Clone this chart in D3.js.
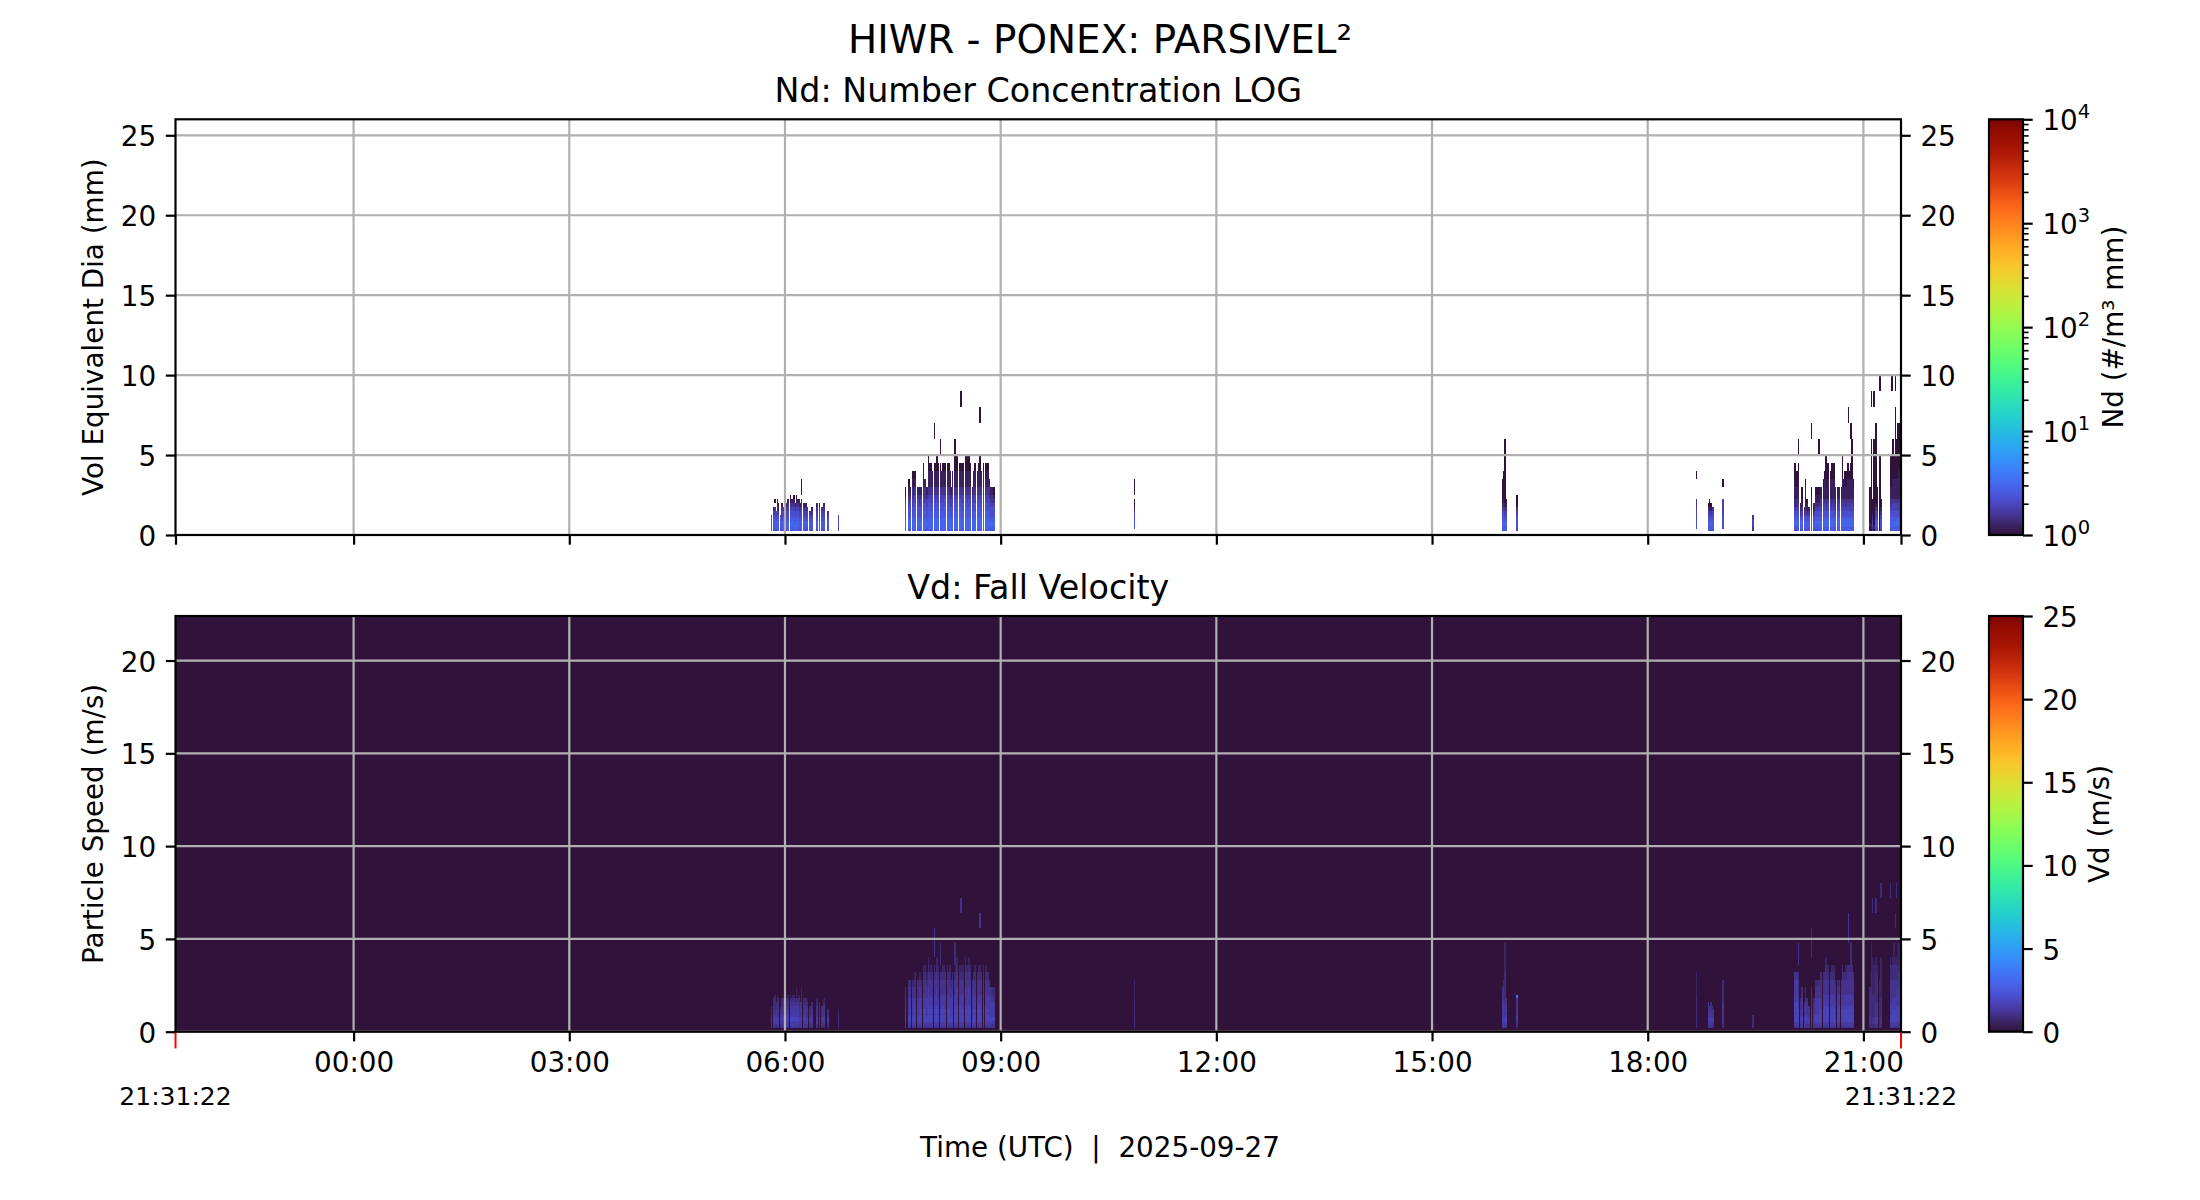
<!DOCTYPE html>
<html><head><meta charset="utf-8">
<script src="https://cdn.jsdelivr.net/npm/d3@7"></script>
<style>body{margin:0;background:#fff} text{font-family:"DejaVu Sans",sans-serif;fill:#000}</style>
</head><body><svg id="c" width="2200" height="1200" xmlns="http://www.w3.org/2000/svg"></svg>
<script>
// ---------------- DATA ----------------
const figTitle = "HIWR - PONEX: PARSIVEL²";
const ndTitle = "Nd: Number Concentration LOG";
const vdTitle = "Vd: Fall Velocity";
const timeStart = "2025-09-26T21:31:22Z";
const timeEnd = "2025-09-27T21:31:22Z";
const dataDate = "2025-09-27";
const hourTicks = ["00:00","03:00","06:00","09:00","12:00","15:00","18:00","21:00"];
const diaTicks = [0,5,10,15,20,25];
const velTicks = [0,5,10,15,20];
const ndBarTicks = [1,10,100,1000,10000];
const vdBarTicks = [0,5,10,15,20,25];
// Parsivel class edges
const diaEdges = [0,0.125,0.25,0.375,0.5,0.625,0.75,0.875,1,1.125,1.25,1.5,1.75,2,2.25,2.5,3,3.5,4,4.5,5,6,7,8,9,10,12,14,16,18,20,23,26];
const velEdges = [0,0.1,0.2,0.3,0.4,0.5,0.6,0.7,0.8,0.9,1.0,1.2,1.4,1.6,1.8,2.0,2.4,2.8,3.2,3.6,4.0,4.8,5.6,6.4,7.2,8.0,9.6,11.2,12.8,14.4,16.0,19.2,22.4];
// level codes used in the profiles ('.' = no value)
const ndLevels = [1.0, 1.2, 1.5, 1.85, 2.2, 2.6, 3.0];
const vdLevels = [0.35, 0.6, 0.85, 1.1, 1.4, 1.7, 2.1, 3.2];
// each profile: groups of classes 0-9 | 10-14 | 15-19 | 20-24 | 25-29
const rainColumns = [
["05:48","..44455433","..23344332|22"],
["05:50","..44555543|21","..33444443|3322"],
["05:51","..55556544|32.0","..34444543|33321"],
["05:52","..45555443|3","..23444433|322"],
["05:53","..55566544|3210","..33445443|33321"],
["05:54","..45555443|210","..33444433|3321"],
["05:56","..44555443","..23344433|21"],
["05:57","..55555443|321","..33444443|3322"],
["05:58","..55566543|32","..34445543|3332"],
["05:59","..45566544|3210","..33445543|33321"],
["06:00","..55565443|32","..33444433|332"],
["06:01","..45555543|321","..34444443|3322"],
["06:02","..56666544|4321","..34455544|43321"],
["06:04","..55666554|43210","..34455543|43321"],
["06:05","..56666554|4321","..34455544|4432"],
["06:06","..55666654|4321","..44455554|43321"],
["06:07","..56666554|43210","..34455544|44321"],
["06:08","..55665544|321","..34445544|3332"],
["06:09","..56666554|43210","..44455544|44321|1"],
["06:10","..55666554|4321","..34455544|4432"],
["06:11","..55566554|4321","..34445544|43321"],
["06:12","..45555443|321","..33444433|332"],
["06:13","..55556544|4321.|00","..33445543|43321|1"],
["06:15","..45555543|321","..33444443|3322"],
["06:16","..55566544|321","..33445543|3321"],
["06:17","..45555443|321","..33444433|3322"],
["06:18","..44555443|32","..23444433|332"],
["06:20","..44555433|2","..23344432|22"],
["06:22","..45555443|21","..23444433|322"],
["06:26","..45555443|321","..33444433|3321"],
["06:28","..45555443|321","..23444433|332"],
["06:30","..44555443|32","..23344433|32"],
["06:32","..45555443|321","..23444433|3321"],
["06:35","..44455433|2","..23344332|2"],
["06:44","..33444433","..22333322|1"],
["07:40","..55666554|44321|0","..33445544|44433|2"],
["07:43","..55666654|44332|10","..34455554|44443|32"],
["07:44","..56666654|54432|1","..34455554|54443|32"],
["07:46","..55666554|44332|210","..34445554|44443|32"],
["07:47","..56666655|44332|10","..34455544|44432|21"],
["07:48","..56666655|54433|210","..34455554|54443|321"],
["07:50","..55666554|44332|1","..33445544|44433|22"],
["07:51","..56666654|44332|1","..34455554|44443|32"],
["07:52","..55666554|44322|1","..34455544|44443|321"],
["07:53","..56666554|44332|1","..34455554|54443|32"],
["07:55","..56666655|54433|2110","..34455555|54444|3321"],
["07:56","..56666654|54432|21","..34455554|54443|3321"],
["07:58","..55666554|44332|1","..34455544|44443|321"],
["07:59","..56666665|55443|21100","..34455555|55444|43321"],
["08:00","..56666655|54433|2110","..34455554|54444|332"],
["08:01","..56666665|55443|2110","..44455555|55444|3321"],
["08:02","..56666655|54433|211","..34455554|54443|332"],
["08:04","..56666665|55443|2110|.0","..34455555|55444|3322.|33"],
["08:05","..56666655|54433|2110","..34455554|54444|332"],
["08:06","..56666665|55443|21100","..34455555|55444|43321"],
["08:07","..56666655|54433|2110","..34455554|54443|3321"],
["08:09","..56666655|54433|2110|0","..34455554|54443|332.2|2"],
["08:10","..56666655|54433|211","..34455554|54444|332"],
["08:11","..56666665|55443|2110","..34455555|55444|3321"],
["08:12","..56666655|54433|2110","..34455555|55444|3321"],
["08:13","..56666665|55443|2110","..34455554|54444|332"],
["08:15","..56666665|55443|2110","..34455555|55444|3321"],
["08:16","..56666655|54433|2110","..34455554|54444|332"],
["08:17","..56666655|54433|211","..34455555|54444|3321"],
["08:18","..56666554|44332|1","..34455544|44443|32"],
["08:19","..56666655|54433|211","..34455554|54444|332"],
["08:21","..56666665|55443|21100|0","..34455555|55444|332.2|2"],
["08:22","..56666655|54433|2110","..34455554|54444|3321"],
["08:23","..56666665|55443|21100","..34455555|55444|43321"],
["08:25","..56666665|55443|2110","..34455555|55444|3321"],
["08:26","..56666665|55443|2110|...0","..34455555|55444|3321|...3"],
["08:27","..56666655|54433|211","..34455554|54444|332"],
["08:28","..56666655|54433|2110","..34455555|54444|3321"],
["08:30","..56666665|55443|21100","..34455555|55444|43321"],
["08:31","..56666665|55443|21100","..34455555|55444|4332"],
["08:32","..56666655|54433|2110","..34455554|54444|3321"],
["08:33","..56666665|55443|21100","..34455555|55444|43321"],
["08:34","..56666655|54433|2110","..34455555|54444|3321"],
["08:36","..56666554|44332|1","..34455544|44443|32"],
["08:37","..56666655|54433|211","..34455554|54444|332"],
["08:38","..56666655|54433|2110","..34455554|54444|3321"],
["08:40","..56666655|54433|211","..34455554|54443|332"],
["08:41","..56666665|55443|2110","..34455555|55444|3321"],
["08:42","..56666665|55443|21100|..0","..34455555|55444|3321|..3"],
["08:43","..56666655|54433|211","..34455554|54444|332"],
["08:45","..56666655|54433|2110","..34455555|54444|3321"],
["08:47","..56666665|55443|2110","..34455555|55444|3321"],
["08:48","..56666655|54433|210","..34455554|54443|332"],
["08:49","..56666655|54433|2110","..34455554|54444|332"],
["08:50","..56666554|44332|21","..34455544|44443|32"],
["08:51","..56666554|44332|1","..34455544|44443|3"],
["08:52","..55666554|44322|1","..33445544|44433|2"],
["08:54","..55666554|44321|0","..33445544|44432|2"],
["10:51","...5554444|3100.|00","..22333322|22221|11"],
["15:58","..45555443|32100|00","..33444443|33332|2"],
["15:59","..55666554|43210|000","..34455544|44433|32"],
["16:00","..45555443|32100|00000|0","..33444443|33322|22211|1"],
["16:01","..55566544|3210","..34455543|4433"],
["16:10","..34444443|32000","..23344443|33337"],
["18:40","...3444443|3322.|..0","..22222222|22222|111"],
["18:50","..55555443|320","..33444443|333"],
["18:51","..45555443|2100","..34444433|33"],
["18:52","..55566543|310","..34445543|332"],
["18:53","..44555443|21","..33444433|32"],
["18:54","..45555443|32","..23344433|3"],
["19:02","...4444443|3333.|.0","..22333333|33322|22"],
["19:27","..22333322","..2222222"],
["20:02","..45566554|43221|1100","..34455555|55554|443"],
["20:03","..45566554|32110|10","..34455554|55544|443"],
["20:04","..45566554|43221|100","..34455555|55544|443"],
["20:05","..45566554|43211|1100|0","..34455554|54443|332.3|3"],
["20:07","..45555443|211","..33444443|3332"],
["20:08","..45566543|32110|0","..34445543|43332|2"],
["20:10","..45555443|21","..33444433|332"],
["20:11","..45566554|32110|10","..34455544|44332|2"],
["20:12","..45555443|2110","..33444443|3332"],
["20:14","..44555443|21","..33444433|33"],
["20:16","..45566543|32110|0....|.0","..34445543|43332|2....|22"],
["20:18","..45555443|211","..33444443|3332"],
["20:20","..45566554|43211|0","..34455554|44443|32"],
["20:21","..45566554|32110|0","..34455544|44433|32"],
["20:22","..55666554|43211|0....|0","..34455554|44443|32"],
["20:23","..45566554|43211|0","..34455554|54443|32"],
["20:24","..55666554|43221|1","..34455555|54443|332"],
["20:26","..55666554|43221|10","..34455555|54444|332"],
["20:27","..55666654|43321|110","..34455555|55444|332"],
["20:28","..55666654|43321|11000","..34455555|55444|33321"],
["20:29","..55666554|43221|100","..34455555|54444|332"],
["20:30","..55666654|43321|1100","..34455555|55444|3321"],
["20:32","..55666654|43321|110","..34455555|55444|332"],
["20:33","..55666554|43221|1100","..34455555|54444|3321"],
["20:34","..55666654|43321|110","..34455555|55444|332"],
["20:35","..55666554|43221|1100","..34455555|54444|3321"],
["20:36","..45566554|32211|1","..34455544|44433|32"],
["20:38","..55666554|43221|0","..34455554|54443|32"],
["20:39","..55666654|43321|1","..34455555|55444|32"],
["20:41","..55666654|43221|1","..34455555|54444|32"],
["20:42","..55666654|43321|11000","..34455555|55444|3332"],
["20:43","..55666554|43221|10","..34455554|54443|332"],
["20:44","..55666654|43321|110","..34455555|55444|332"],
["20:45","..55666554|43221|100","..34455555|54444|3321"],
["20:46","..55666654|43321|1100","..34455555|55444|3332"],
["20:47","..55666654|43321|1100|..0","..34455555|55444|3332.|.33"],
["20:48","..55666554|43221|110","..34455555|54444|3332"],
["20:49","..55666654|43321|1100|.0","..34455555|55444|33322|2"],
["20:50","..55666654|43321|11000|0","..34455555|55444|3332"],
["20:51","..55666554|43221|10","..34455554|54443|332"],
["21:05","..00110000|00000|0","..22333322|22222|2"],
["21:06","..01100000|00000|00000|0..0","..22222222|22222|22211|1"],
["21:07","..22333322|1000","..22333322|22222|11111|...2"],
["21:08","..01100000|00000|00000|0..0","..22333322|22222|1111"],
["21:10","..44555443|32100|00000|00","..33444433|33322|22211|...2"],
["21:11","..34444433|21000|0","..33444433|33322|2221"],
["21:13","..00000000|00000|00000|....0","..22222222|22211|11"],
["21:14","..34444433|2100","..22333322|22221|11111|....2"],
["21:22","..45566554|43221|10000","..34455544|44433|33221|....2"],
["21:23","..45566554|43221|10000|....0","..34455554|44433|3322"],
["21:24","..55666554|43321|11000|0","..34455555|54443|33221"],
["21:25","..55666554|43321|11000","..34455555|54443|33221|1"],
["21:26","..55666554|43321|11000|000.0","..34455555|54443|33221|..2"],
["21:27","..55666654|43321|11000|0","..34455555|54444|33221|....2"],
["21:28","..55666654|43321|11000|00","..34455555|55444|43321|1"],
["21:29","..55666654|43321|11100|00","..34455555|55444|43321|1"],
["21:30","..55666654|43321|11100|0","..34455555|55444|4332"]
];

// ---------------- RENDER ----------------
const FONT = "DejaVu Sans";
const TICK = 27.8, TLEN = 9.7, TW = 2.2;
const svg = d3.select("#c");
const defs = svg.append("defs");

// turbo colormap (matplotlib ends)
const tLo = 0.03, tHi = 0.97;
function turbo(t) {
  t = Math.max(0, Math.min(1, t));
  if (t < tLo) return d3.interpolateRgb("rgb(48,18,59)", d3.interpolateTurbo(tLo))(t / tLo);
  if (t > tHi) return d3.interpolateRgb(d3.interpolateTurbo(tHi), "rgb(122,4,3)")((t - tHi) / (1 - tHi));
  return d3.interpolateTurbo(t);
}
const ndColor = d3.scaleSequentialLog(turbo).domain([1, 1e4]);
const vdColor = d3.scaleSequential(turbo).domain([0, 25]);

const x = d3.scaleUtc([new Date(timeStart), new Date(timeEnd)], [175.5, 1901]);
const yNd = d3.scaleLinear([0, 26], [535, 119.3]);
const yVd = d3.scaleLinear([0, 22.4], [1031.7, 616]);
const parseT = s => new Date(dataDate + "T" + s + ":00Z");
const hourDates = hourTicks.map(parseT);
const [X0, X1] = x.range();

const segStart = [0, 10, 15, 20, 25, 30];
function parseProfile(s, levels) {
  const out = [];
  s.split("|").forEach((seg, k) => {
    for (let j = 0; j < seg.length; j++) {
      const c = seg[j];
      if (c !== ".") out.push({ bin: segStart[k] + j, value: levels[+c] });
    }
  });
  return out;
}
const ndCells = [], vdCells = [];
rainColumns.forEach(([t, nd, vd]) => {
  const t0 = parseT(t), t1 = new Date(+t0 + 60000);
  parseProfile(nd, ndLevels).forEach(c => ndCells.push({ t0, t1, ...c }));
  parseProfile(vd, vdLevels).forEach(c => vdCells.push({ t0, t1, ...c }));
});

function panel(y, edges, cells, color, ticks, clipId, bg) {
  const [Y1, Y0] = y.range();
  defs.append("clipPath").attr("id", clipId).append("rect")
    .attr("x", X0).attr("y", Y0).attr("width", X1 - X0).attr("height", Y1 - Y0);
  const g = svg.append("g");
  if (bg !== null) g.append("rect").attr("x", X0).attr("y", Y0).attr("width", X1 - X0).attr("height", Y1 - Y0).attr("fill", bg);
  g.append("g").attr("clip-path", `url(#${clipId})`).attr("shape-rendering", "crispEdges")
    .selectAll("rect").data(cells).join("rect")
    .attr("x", d => x(d.t0)).attr("width", d => x(d.t1) - x(d.t0) + 0.45)
    .attr("y", d => y(edges[d.bin + 1])).attr("height", d => y(edges[d.bin]) - y(edges[d.bin + 1]))
    .attr("fill", d => color(d.value));
  // grid
  const grid = g.append("g").attr("stroke", "#b0b0b0").attr("stroke-width", TW);
  grid.selectAll(".v").data(hourDates).join("line")
    .attr("x1", d => x(d)).attr("x2", d => x(d)).attr("y1", Y0).attr("y2", Y1);
  grid.selectAll(".h").data(ticks).join("line")
    .attr("x1", X0).attr("x2", X1).attr("y1", d => y(d)).attr("y2", d => y(d));
  // y axes both sides
  const yl = g.append("g").attr("transform", `translate(${X0},0)`)
    .call(d3.axisLeft(y).tickValues(ticks).tickSize(TLEN).tickPadding(TLEN));
  const yr = g.append("g").attr("transform", `translate(${X1},0)`)
    .call(d3.axisRight(y).tickValues(ticks).tickSize(TLEN).tickPadding(TLEN));
  [yl, yr].forEach(a => {
    a.attr("font-family", FONT).attr("font-size", TICK);
    a.select(".domain").remove();
    a.selectAll(".tick line").attr("stroke", "#000").attr("stroke-width", TW);
    a.selectAll(".tick text").attr("fill", "#000").attr("dy", "0.38em");
  });
  return { g, Y0, Y1 };
}

const pTop = panel(yNd, diaEdges, ndCells, ndColor, diaTicks, "clipTop", null);
const pBot = panel(yVd, velEdges, vdCells, vdColor, velTicks, "clipBot", vdColor(0));

// x axes
const xTop = svg.append("g").attr("transform", `translate(0,${pTop.Y1})`)
  .call(d3.axisBottom(x).tickValues([x.domain()[0], ...hourDates, x.domain()[1]]).tickSize(TLEN).tickFormat(""));
const xBot = svg.append("g").attr("transform", `translate(0,${pBot.Y1})`)
  .call(d3.axisBottom(x).tickValues(hourDates).tickSize(TLEN).tickPadding(11).tickFormat(d3.utcFormat("%H:%M")));
[xTop, xBot].forEach(a => {
  a.attr("font-family", FONT).attr("font-size", TICK);
  a.select(".domain").remove();
  a.selectAll(".tick line").attr("stroke", "#000").attr("stroke-width", TW);
  a.selectAll(".tick text").attr("fill", "#000");
});
// red start/end ticks with labels
const ends = x.domain();
svg.append("g").selectAll("line").data(ends).join("line")
  .attr("x1", d => x(d)).attr("x2", d => x(d)).attr("y1", pBot.Y1).attr("y2", pBot.Y1 + 16.7)
  .attr("stroke", "#ff0000").attr("stroke-width", 2);
svg.append("g").selectAll("text").data(ends).join("text")
  .attr("x", d => x(d)).attr("y", 1105).attr("text-anchor", "middle")
  .attr("font-size", 25).text(d => d3.utcFormat("%H:%M:%S")(d));

// spines
[pTop, pBot].forEach(p => svg.append("rect").attr("x", X0).attr("y", p.Y0)
  .attr("width", X1 - X0).attr("height", p.Y1 - p.Y0)
  .attr("fill", "none").attr("stroke", "#000").attr("stroke-width", TW));

// titles and labels
svg.append("text").attr("x", 1100).attr("y", 53).attr("text-anchor", "middle").attr("font-size", 38.9).text(figTitle);
svg.append("text").attr("x", (X0 + X1) / 2).attr("y", 102).attr("text-anchor", "middle").attr("font-size", 33.3).text(ndTitle);
svg.append("text").attr("x", (X0 + X1) / 2).attr("y", 598.5).attr("text-anchor", "middle").attr("font-size", 33.3).text(vdTitle);
svg.append("text").attr("x", 1100).attr("y", 1157).attr("text-anchor", "middle").attr("font-size", TICK)
  .style("white-space", "pre").text(`Time (UTC)  |  ${dataDate}`);
function vlabel(txt, cx, cy) {
  svg.append("text").attr("transform", `translate(${cx},${cy}) rotate(-90)`)
    .attr("text-anchor", "middle").attr("font-size", TICK).text(txt);
}
vlabel("Vol Equivalent Dia (mm)", 103, (pTop.Y0 + pTop.Y1) / 2);
vlabel("Particle Speed (m/s)", 103, (pBot.Y0 + pBot.Y1) / 2);

// colorbars
const CB0 = 1989, CB1 = 2023;
function gradient(id) {
  const lg = defs.append("linearGradient").attr("id", id).attr("x1", 0).attr("y1", 1).attr("x2", 0).attr("y2", 0);
  lg.selectAll("stop").data(d3.range(0, 1.0001, 0.01)).join("stop")
    .attr("offset", d => d).attr("stop-color", d => turbo(d));
}
gradient("gradNd"); gradient("gradVd");
function colorbar(p, gid) {
  svg.append("rect").attr("x", CB0).attr("y", p.Y0).attr("width", CB1 - CB0).attr("height", p.Y1 - p.Y0)
    .attr("fill", `url(#${gid})`).attr("stroke", "#000").attr("stroke-width", TW);
}
colorbar(pTop, "gradNd"); colorbar(pBot, "gradVd");

// Nd colorbar axis (log)
const cbNd = d3.scaleLog([1, 1e4], [pTop.Y1, pTop.Y0]);
const minorNd = cbNd.ticks().filter(v => !ndBarTicks.includes(v));
const gN = svg.append("g").attr("transform", `translate(${CB1},0)`);
gN.call(d3.axisRight(cbNd).tickValues(minorNd).tickSize(5.6).tickFormat(""));
gN.select(".domain").remove();
gN.selectAll(".tick line").attr("stroke", "#000").attr("stroke-width", 1.6);
const gN2 = svg.append("g").attr("transform", `translate(${CB1},0)`);
gN2.call(d3.axisRight(cbNd).tickValues(ndBarTicks).tickSize(TLEN).tickFormat(""));
gN2.select(".domain").remove();
gN2.selectAll(".tick line").attr("stroke", "#000").attr("stroke-width", TW);
const lab = svg.append("g").selectAll("text").data(ndBarTicks).join("text")
  .attr("x", CB1 + TLEN + 9.7).attr("y", d => cbNd(d) + 10.5).attr("font-size", TICK);
lab.append("tspan").text("10");
lab.append("tspan").attr("font-size", 19.5).attr("dy", -11.5).text(d => Math.round(Math.log10(d)));
svg.append("text").attr("transform", `translate(2123,${(pTop.Y0 + pTop.Y1) / 2}) rotate(-90)`)
  .attr("text-anchor", "middle").attr("font-size", TICK).text("Nd (#/m³ mm)");

// Vd colorbar axis
const cbVd = d3.scaleLinear([0, 25], [pBot.Y1, pBot.Y0]);
const gV = svg.append("g").attr("transform", `translate(${CB1},0)`)
  .call(d3.axisRight(cbVd).tickValues(vdBarTicks).tickSize(TLEN).tickPadding(TLEN));
gV.attr("font-family", FONT).attr("font-size", TICK);
gV.select(".domain").remove();
gV.selectAll(".tick line").attr("stroke", "#000").attr("stroke-width", TW);
gV.selectAll(".tick text").attr("fill", "#000").attr("dy", "0.38em");
svg.append("text").attr("transform", `translate(2109,${(pBot.Y0 + pBot.Y1) / 2}) rotate(-90)`)
  .attr("text-anchor", "middle").attr("font-size", TICK).text("Vd (m/s)");
</script></body></html>
